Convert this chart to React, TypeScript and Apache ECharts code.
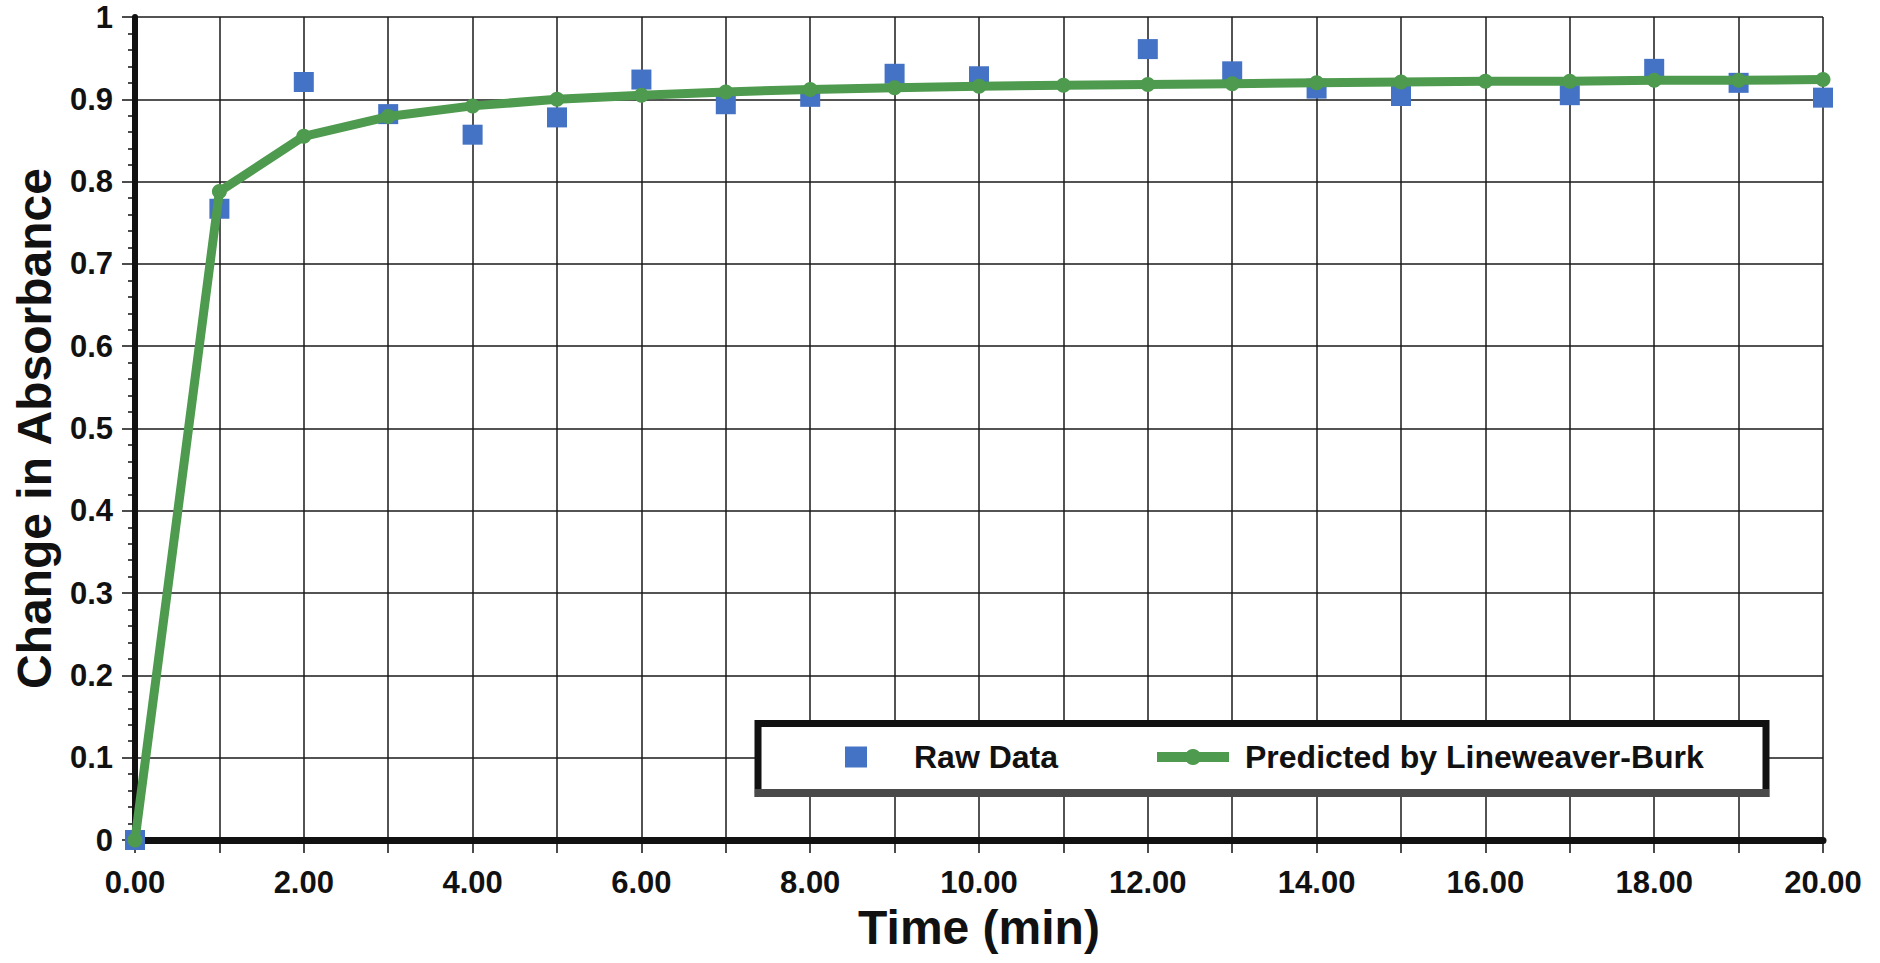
import React, { useEffect, useRef } from "react";
import * as echarts from "echarts";

const timeMin = [0, 1, 2, 3, 4, 5, 6, 7, 8, 9, 10, 11, 12, 13, 14, 15, 16, 17, 18, 19, 20];
const rawData = [0, 0.767, 0.921, 0.882, 0.857, 0.878, 0.924, 0.894, 0.903, 0.931, 0.928, null, 0.961, 0.934, 0.913, 0.904, null, 0.905, 0.937, 0.920, 0.902];
const predicted = [0, 0.788, 0.855, 0.879, 0.892, 0.900, 0.905, 0.909, 0.912, 0.914, 0.916, 0.917, 0.918, 0.919, 0.920, 0.921, 0.922, 0.922, 0.923, 0.923, 0.924];
const seriesNames = ["Raw Data", "Predicted by Lineweaver-Burk"];

const FONT = "'Liberation Sans', Arial, Helvetica, sans-serif";

export default function App() {
  const ref = useRef<HTMLDivElement>(null);
  useEffect(() => {
    if (!ref.current) return;
    const chart = echarts.init(ref.current, null, { renderer: "svg" });
    const rawPts = timeMin
      .map((t, i) => [t, rawData[i]])
      .filter((p) => p[1] !== null);
    const predPts = timeMin.map((t, i) => [t, predicted[i]]);
    const option: any = {
      animation: false,
      backgroundColor: "#ffffff",
      textStyle: { fontFamily: FONT },
      grid: { left: 135, right: 57, top: 17, bottom: 123, containLabel: false },
      xAxis: {
        type: "value",
        min: 0,
        max: 20,
        interval: 1,
        name: "Time (min)",
        nameLocation: "middle",
        nameGap: 63,
        nameTextStyle: { fontSize: 48, fontWeight: "bold", color: "#111", fontFamily: FONT },
        axisLine: { show: true, onZero: false, lineStyle: { color: "#111", width: 7 } },
        axisTick: { show: true, length: 13, lineStyle: { color: "#111", width: 1.5 } },
        axisLabel: {
          margin: 27,
          fontSize: 31,
          fontWeight: "bold",
          color: "#111",
          fontFamily: FONT,
          formatter: (v: number) => (Math.round(v) % 2 === 0 ? v.toFixed(2) : ""),
        },
        splitLine: { show: true, lineStyle: { color: "#1a1a1a", width: 1.5 } },
      },
      yAxis: {
        type: "value",
        min: 0,
        max: 1,
        interval: 0.1,
        name: "Change in Absorbance",
        nameLocation: "middle",
        nameGap: 77,
        nameTextStyle: { fontSize: 48, fontWeight: "bold", color: "#111", fontFamily: FONT },
        axisLine: { show: true, onZero: false, lineStyle: { color: "#111", width: 6 } },
        axisTick: { show: true, length: 13, lineStyle: { color: "#111", width: 1.5 } },
        minorTick: { show: true, splitNumber: 5, length: 7, lineStyle: { color: "#111", width: 1.5 } },
        axisLabel: {
          margin: 22,
          fontSize: 31,
          fontWeight: "bold",
          color: "#111",
          fontFamily: FONT,
          formatter: (v: number) => String(Math.round(v * 10) / 10),
        },
        splitLine: { show: true, lineStyle: { color: "#1a1a1a", width: 1.5 } },
      },
      legend: [
        {
          data: [{ name: seriesNames[0], icon: "rect" }],
          left: 845,
          top: 741,
          padding: 0,
          itemWidth: 22,
          itemHeight: 21,
          z: 10,
          selectedMode: false,
          textStyle: {
            fontSize: 32,
            fontWeight: "bold",
            color: "#111",
            fontFamily: FONT,
            lineHeight: 32,
            padding: [0, 0, 0, 42],
          },
        },
        {
          data: [seriesNames[1]],
          left: 1152,
          top: 741,
          padding: 0,
          itemWidth: 72,
          itemHeight: 20,
          z: 10,
          selectedMode: false,
          lineStyle: { width: 10 },
          textStyle: {
            fontSize: 32,
            fontWeight: "bold",
            color: "#111",
            fontFamily: FONT,
            lineHeight: 32,
            padding: [0, 0, 0, 11],
          },
        },
      ],
      graphic: [
        {
          type: "rect",
          z: 8,
          shape: { x: 758, y: 723.5, width: 1008, height: 70 },
          style: { fill: "#ffffff", stroke: "#111111", lineWidth: 7 },
        },
        {
          type: "line",
          z: 9,
          shape: { x1: 755, y1: 793, x2: 1769, y2: 793 },
          style: { stroke: "#4a4a4a", lineWidth: 8 },
        },
      ],
      series: [
        {
          name: seriesNames[0],
          type: "scatter",
          data: rawPts,
          symbol: "rect",
          symbolSize: 20,
          clip: false,
          itemStyle: { color: "#4472C4", opacity: 1 },
          z: 3,
        },
        {
          name: seriesNames[1],
          type: "line",
          data: predPts,
          symbol: "circle",
          symbolSize: 15,
          showAllSymbol: true,
          clip: false,
          lineStyle: { color: "#4E9A4E", width: 9 },
          itemStyle: { color: "#4E9A4E" },
          z: 4,
        },
      ],
    };
    chart.setOption(option);
    return () => chart.dispose();
  }, []);
  return (
    <div
      ref={ref}
      style={{ position: "fixed", left: 0, top: 0, width: 1880, height: 963, background: "#fff" }}
    />
  );
}
